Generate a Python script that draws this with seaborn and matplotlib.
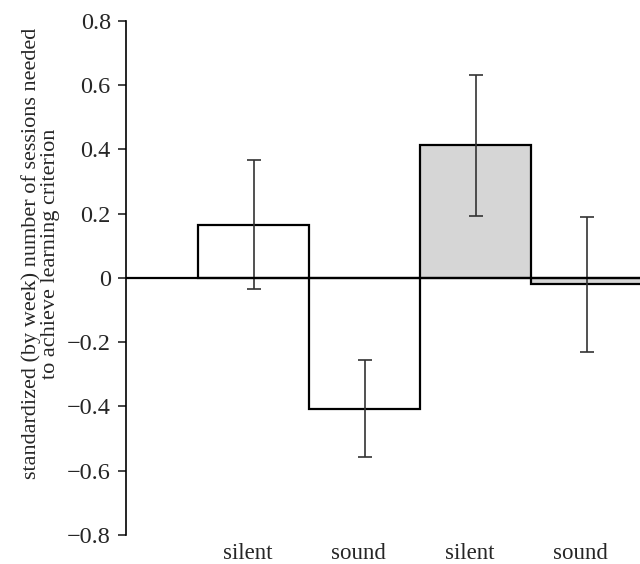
import matplotlib
matplotlib.use("Agg")
import matplotlib.pyplot as plt
import matplotlib.transforms as mtransforms
import seaborn as sns
import pandas as pd

# data
groups = ["g1", "g2", "g3", "g4"]
labels = ["silent", "sound", "silent", "sound"]
means = [0.165, -0.407, 0.412, -0.02]
errors = [0.20, 0.15, 0.22, 0.21]
fills = ["#ffffff", "#ffffff", "#d6d6d6", "#d6d6d6"]

sns.set_style("white")
plt.rcParams["font.family"] = ["Liberation Serif", "DejaVu Serif"]

df = pd.DataFrame({"group": groups, "mean": means})

fig = plt.figure(figsize=(6.4, 5.64), dpi=100)
ax = fig.add_axes([0.197, 0.0514, 0.803, 0.912])

sns.barplot(data=df, x="group", y="mean", hue="group", order=groups,
            palette=dict(zip(groups, fills)), width=1.0, edgecolor="black",
            linewidth=1.6, legend=False, errorbar=None, ax=ax)
ax.errorbar(range(len(groups)), means, yerr=errors, fmt="none",
            ecolor="#333333", elinewidth=1.2, capsize=5, capthick=1.2, zorder=5)
ax.axhline(0, color="black", linewidth=1.6, zorder=6)

ax.set_xlim(-1.15, 3.48)
ax.set_ylim(-0.8, 0.8)
ax.set_yticks([-0.8, -0.6, -0.4, -0.2, 0, 0.2, 0.4, 0.6, 0.8])
ax.set_yticklabels(["\u22120.8", "\u22120.6", "\u22120.4", "\u22120.2", "0",
                    "0.2", "0.4", "0.6", "0.8"], fontsize=17.5)
ax.set_xticks(range(len(groups)))
ax.set_xticklabels(labels, fontsize=16.5)
ax.tick_params(axis="x", length=0, pad=6)
ax.tick_params(axis="y", direction="out", length=6, width=1.2, left=True, pad=5)

# category labels sit a little left of the bar centres in the original
shift = mtransforms.ScaledTranslation(-0.06, 0, fig.dpi_scale_trans)
for lab in ax.get_xticklabels():
    lab.set_transform(lab.get_transform() + shift)

for side in ["top", "right", "bottom"]:
    ax.spines[side].set_visible(False)
ax.spines["left"].set_linewidth(1.2)
ax.spines["left"].set_color("black")

ax.set_xlabel("")
ax.set_ylabel("standardized (by week) number of sessions needed\nto achieve learning criterion",
              fontsize=16, linespacing=1.05)
ax.yaxis.set_label_coords(-0.128, 0.547)

fig.savefig("out.png", dpi=100)
